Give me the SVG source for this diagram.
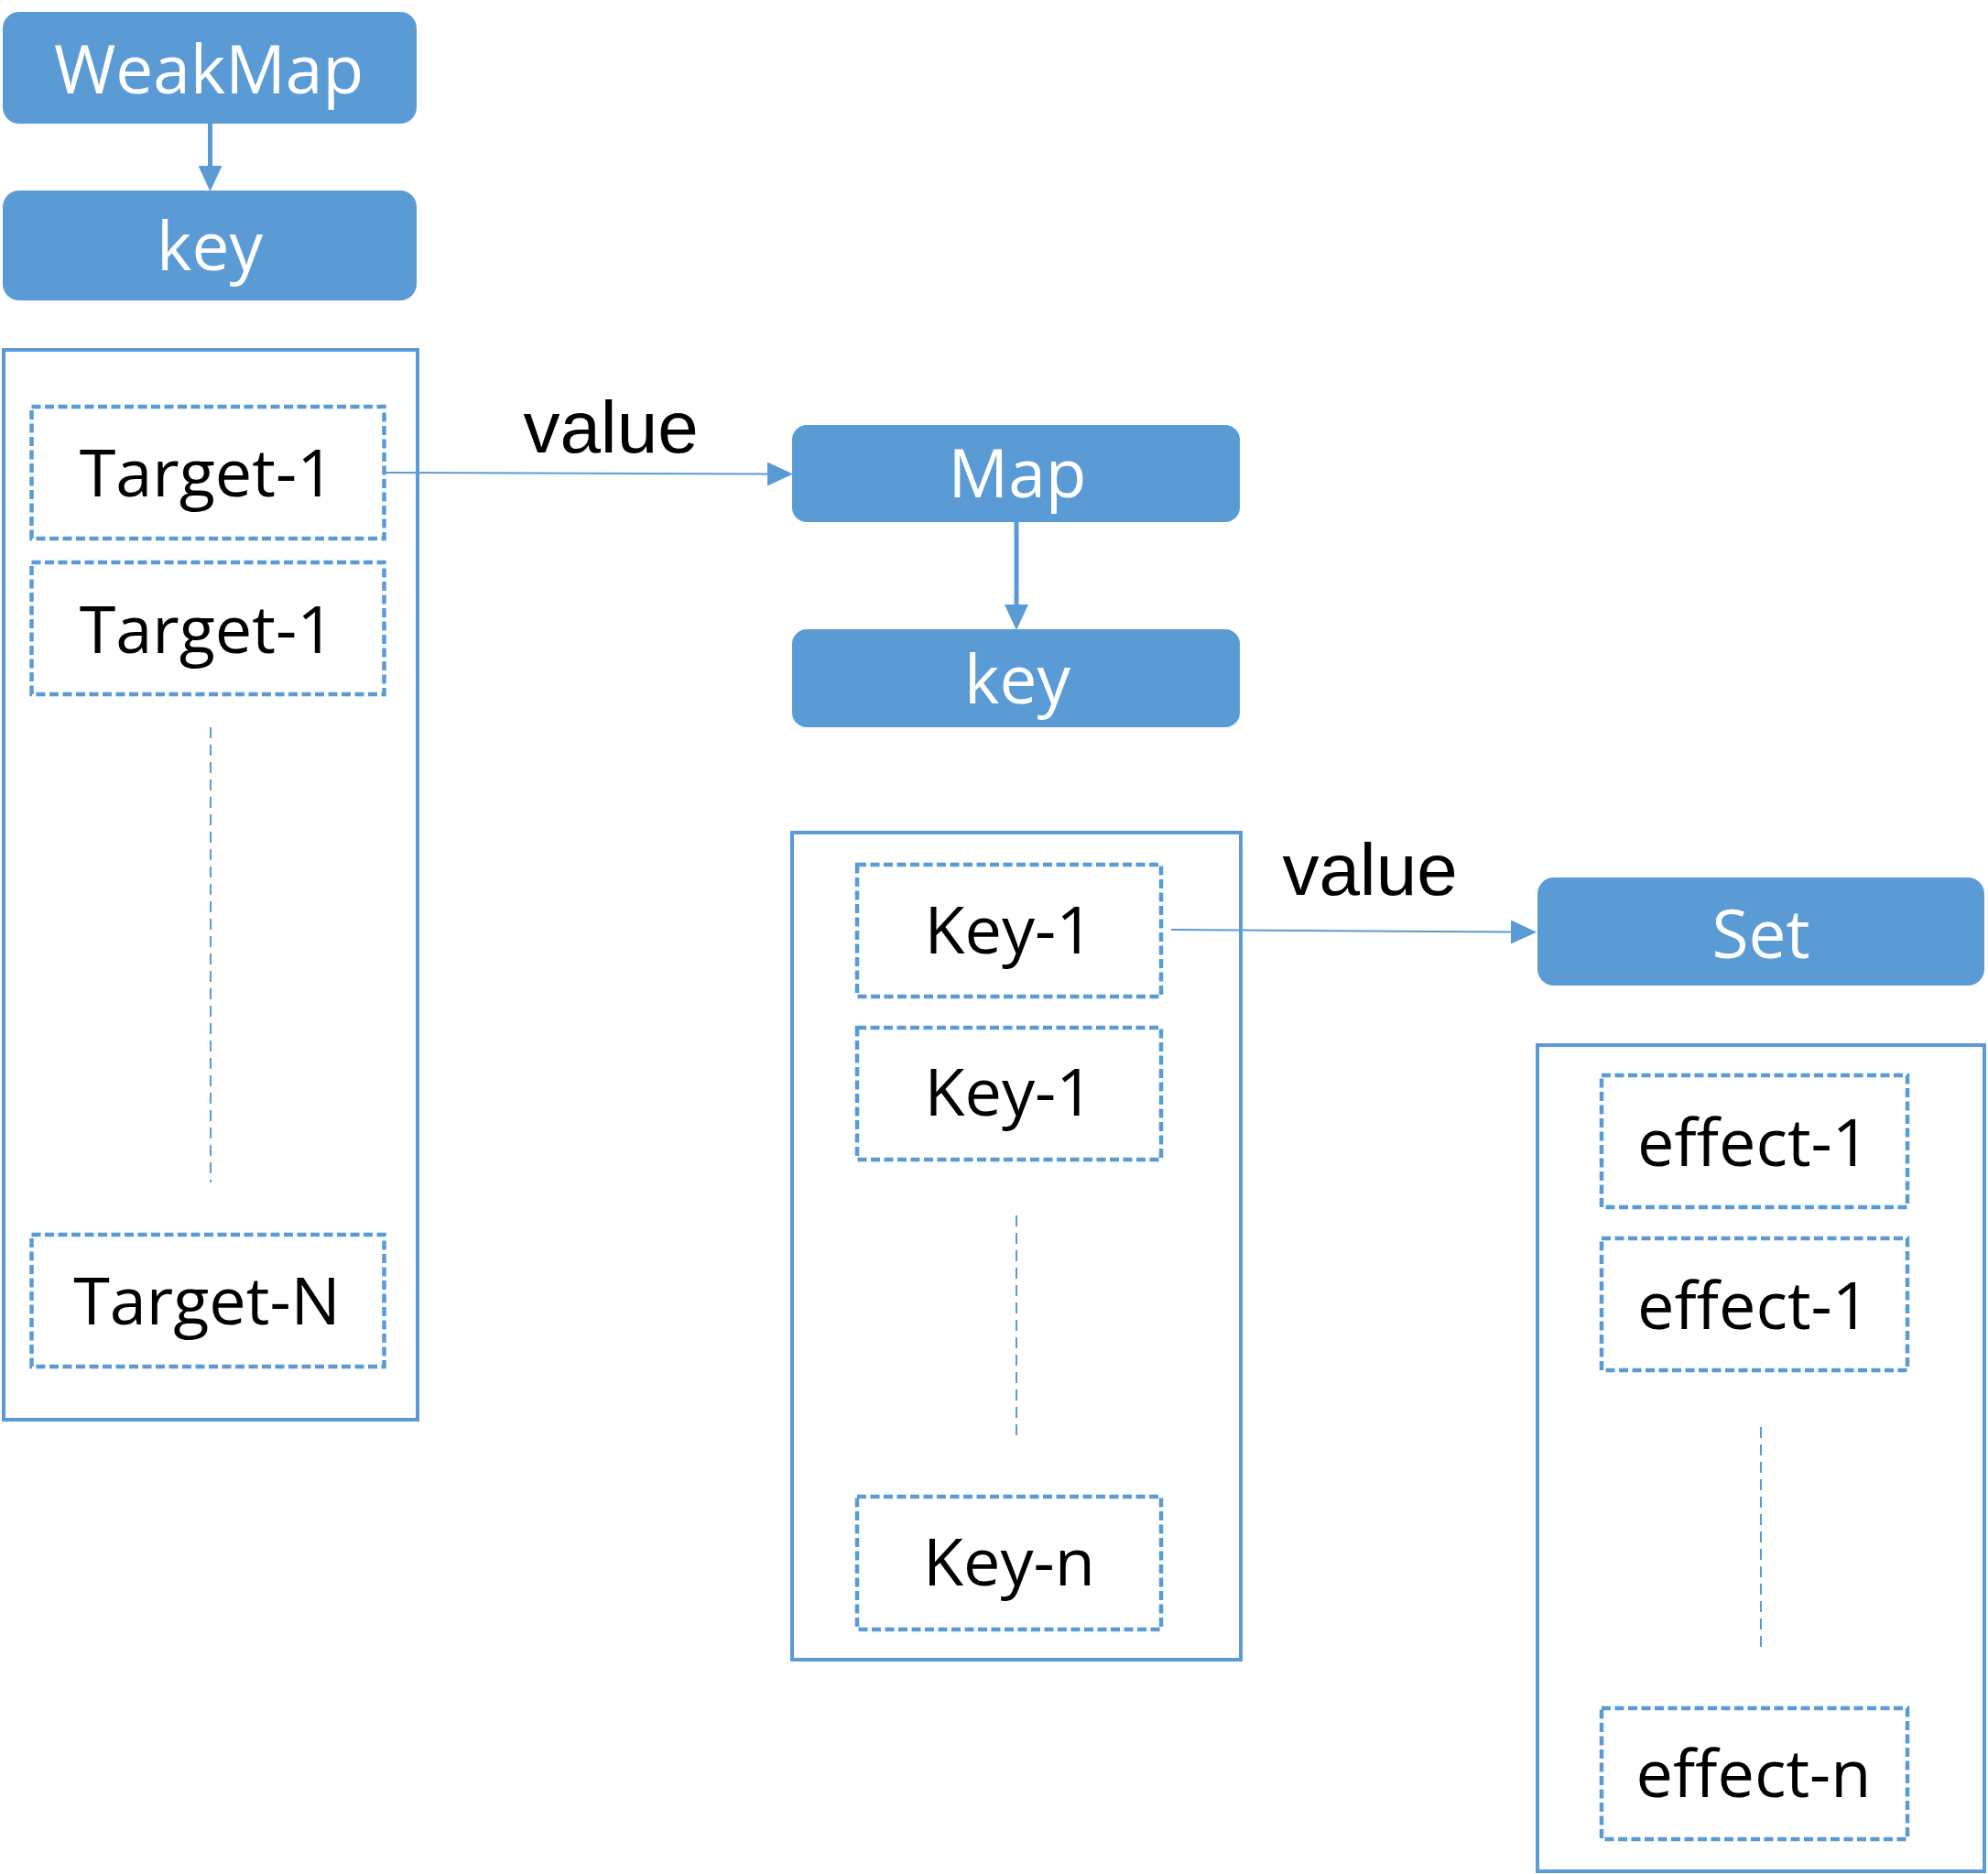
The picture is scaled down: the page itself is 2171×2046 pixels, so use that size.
<svg xmlns="http://www.w3.org/2000/svg" width="2171" height="2046" viewBox="0 0 2171 2046">
<style>
.solid{fill:#5B9BD5;stroke:none}
.wt{fill:#FFFFFF;font-family:"Open Sans","Noto Sans",sans-serif;font-size:73px;text-anchor:middle}
.bt{fill:#000000;font-family:"Open Sans","Noto Sans",sans-serif;font-size:72px;text-anchor:middle}
.cont{fill:#FFFFFF;stroke:#5B9BD5;stroke-width:4}
.item{fill:#FFFFFF;stroke:#5B9BD5;stroke-width:4.5;stroke-dasharray:10 4.5}
.dots{fill:none;stroke:#5B9BD5;stroke-width:2;stroke-dasharray:12 7}
.lbl{fill:#000000;font-family:"Liberation Sans",Arial,sans-serif;font-size:80px;text-anchor:middle}
.thin{fill:none;stroke:#5B9BD5;stroke-width:2}
.thick{fill:none;stroke:#5B9BD5;stroke-width:5}
</style>
<defs>
<marker id="ah" markerUnits="userSpaceOnUse" markerWidth="28" markerHeight="26" refX="0" refY="13" orient="auto">
<path d="M0,0 L28,13 L0,26 z" fill="#5B9BD5"/>
</marker>
</defs>
<rect width="2171" height="2046" fill="#FFFFFF"/>

<g id="weakmap">
<rect class="solid" x="3" y="13" width="452" height="122" rx="18"/>
<text class="wt" x="228" y="102">WeakMap</text>
</g>
<g id="weakmap-key">
<rect class="solid" x="3" y="208" width="452" height="120" rx="18"/>
<text class="wt" x="229" y="295">key</text>
</g>
<g id="target-list">
<rect class="cont" x="4" y="382" width="452" height="1168"/>
<line class="dots" x1="230" y1="794" x2="230" y2="1291"/>
</g>
<g id="target-1a">
<rect class="item" x="34.5" y="444" width="385" height="144"/>
<text class="bt" x="226" y="542">Target-1</text>
</g>
<g id="target-1b">
<rect class="item" x="34.5" y="614" width="385" height="144"/>
<text class="bt" x="226" y="713">Target-1</text>
</g>
<g id="target-n">
<rect class="item" x="34.5" y="1348" width="385" height="144"/>
<text class="bt" x="226" y="1446">Target-N</text>
</g>

<g id="map">
<rect class="solid" x="865" y="464" width="489" height="106" rx="16"/>
<text class="wt" x="1111" y="543">Map</text>
</g>
<g id="map-key">
<rect class="solid" x="865" y="687" width="489" height="107" rx="16"/>
<text class="wt" x="1111" y="768">key</text>
</g>
<g id="key-list">
<rect class="cont" x="865" y="909" width="490" height="903"/>
<line class="dots" x1="1110" y1="1327" x2="1110" y2="1574"/>
</g>
<g id="key-1a">
<rect class="item" x="936" y="944" width="332" height="144"/>
<text class="bt" x="1102" y="1041">Key-1</text>
</g>
<g id="key-1b">
<rect class="item" x="936" y="1122" width="332" height="144"/>
<text class="bt" x="1102" y="1218">Key-1</text>
</g>
<g id="key-n">
<rect class="item" x="936" y="1634" width="332" height="145"/>
<text class="bt" x="1102" y="1731">Key-n</text>
</g>

<g id="set">
<rect class="solid" x="1679" y="958" width="488" height="118" rx="18"/>
<text class="wt" x="1923" y="1046">Set</text>
</g>
<g id="effect-list">
<rect class="cont" x="1679" y="1141" width="488" height="902"/>
<line class="dots" x1="1923" y1="1558" x2="1923" y2="1803"/>
</g>
<g id="effect-1a">
<rect class="item" x="1749" y="1174" width="334" height="144"/>
<text class="bt" x="1915" y="1273">effect-1</text>
</g>
<g id="effect-1b">
<rect class="item" x="1749" y="1352" width="334" height="144"/>
<text class="bt" x="1915" y="1451">effect-1</text>
</g>
<g id="effect-n">
<rect class="item" x="1749" y="1865" width="334" height="143"/>
<text class="bt" x="1915" y="1962">effect-n</text>
</g>

<g id="connectors">
<line class="thick" x1="229.5" y1="135" x2="229.5" y2="181" marker-end="url(#ah)"/>
<line class="thin" x1="420" y1="516" x2="838" y2="517.5" marker-end="url(#ah)"/>
<text class="lbl" x="667" y="494">value</text>
<line class="thick" x1="1110" y1="570" x2="1110" y2="660" marker-end="url(#ah)"/>
<line class="thin" x1="1279" y1="1015" x2="1650" y2="1017.5" marker-end="url(#ah)"/>
<text class="lbl" x="1496" y="977">value</text>
</g>
</svg>
